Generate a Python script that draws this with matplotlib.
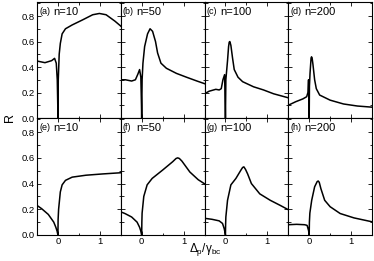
import numpy as np
import matplotlib
matplotlib.use('Agg')
import matplotlib.pyplot as plt
from matplotlib.ticker import MultipleLocator

plt.rcParams['font.family'] = ['Liberation Sans', 'DejaVu Sans']
plt.rcParams['mathtext.fontset'] = 'custom'
plt.rcParams['mathtext.rm'] = 'Liberation Sans'
plt.rcParams['mathtext.it'] = 'Liberation Sans'

# panel labels
letters = ['(a)', '(b)', '(c)', '(d)', '(e)', '(f)', '(g)', '(h)']
n_values = [10, 50, 100, 200, 10, 50, 100, 200]

# curves, detuning and R
xa = [-0.5, -0.31, -0.15, -0.08, -0.04, -0.016, -0.004, 0.0, 0.008, 0.03, 0.057, 0.1, 0.18, 0.34, 0.59, 0.83, 0.99, 1.15, 1.36, 1.54]
ya = [0.447, 0.434, 0.45, 0.468, 0.43, 0.30, 0.10, 0.0, 0.30, 0.50, 0.585, 0.66, 0.70, 0.73, 0.77, 0.81, 0.82, 0.81, 0.76, 0.71]

xb = [-0.5, -0.39, -0.24, -0.15, -0.09, -0.05, -0.02, -0.005, 0.0, 0.01, 0.03, 0.07, 0.14, 0.2, 0.26, 0.33, 0.38, 0.46, 0.59, 0.83, 1.07, 1.32, 1.54]
yb = [0.30, 0.30, 0.29, 0.30, 0.345, 0.38, 0.32, 0.10, 0.0, 0.30, 0.43, 0.56, 0.66, 0.70, 0.68, 0.60, 0.51, 0.43, 0.39, 0.35, 0.32, 0.29, 0.265]

xc = [-0.5, -0.39, -0.23, -0.15, -0.1, -0.06, -0.02, -0.005, 0.0, 0.01, 0.05, 0.075, 0.09, 0.105, 0.13, 0.17, 0.21, 0.3, 0.41, 0.67, 0.91, 1.15, 1.54]
yc = [0.19, 0.21, 0.225, 0.22, 0.23, 0.30, 0.34, 0.10, 0.0, 0.30, 0.45, 0.56, 0.595, 0.60, 0.57, 0.47, 0.38, 0.32, 0.285, 0.245, 0.22, 0.19, 0.155]

xd = [-0.5, -0.32, -0.15, -0.06, -0.03, -0.015, -0.004, 0.0, 0.006, 0.02, 0.045, 0.056, 0.07, 0.09, 0.13, 0.17, 0.25, 0.5, 0.82, 1.15, 1.54]
yd = [0.10, 0.128, 0.15, 0.167, 0.20, 0.30, 0.10, 0.0, 0.25, 0.35, 0.47, 0.48, 0.47, 0.42, 0.30, 0.23, 0.18, 0.14, 0.11, 0.094, 0.084]

xe = [-0.5, -0.39, -0.23, -0.1, -0.05, -0.02, 0.0, 0.004, 0.016, 0.057, 0.1, 0.18, 0.34, 0.67, 1.07, 1.54]
ye = [0.23, 0.205, 0.16, 0.10, 0.06, 0.03, 0.0, 0.12, 0.2, 0.335, 0.39, 0.425, 0.45, 0.465, 0.475, 0.485]

xf = [-0.5, -0.4, -0.24, -0.11, -0.05, -0.02, 0.0, 0.004, 0.01, 0.05, 0.13, 0.25, 0.5, 0.74, 0.82, 0.86, 0.9, 0.96, 1.15, 1.35, 1.54]
yf = [0.18, 0.167, 0.14, 0.10, 0.06, 0.03, 0.0, 0.10, 0.17, 0.30, 0.39, 0.44, 0.505, 0.57, 0.595, 0.60, 0.595, 0.575, 0.49, 0.43, 0.39]

xg = [-0.5, -0.32, -0.15, -0.07, -0.03, -0.01, 0.0, 0.004, 0.01, 0.05, 0.13, 0.25, 0.37, 0.41, 0.44, 0.48, 0.53, 0.62, 0.82, 1.07, 1.31, 1.54]
yg = [0.13, 0.122, 0.11, 0.09, 0.05, 0.02, 0.0, 0.08, 0.14, 0.27, 0.39, 0.44, 0.505, 0.525, 0.53, 0.51, 0.475, 0.40, 0.32, 0.27, 0.23, 0.19]

xh = [-0.5, -0.3, -0.11, -0.05, -0.015, -0.004, 0.0, 0.005, 0.016, 0.06, 0.13, 0.19, 0.215, 0.24, 0.28, 0.37, 0.5, 0.74, 1.07, 1.54]
yh = [0.08, 0.083, 0.08, 0.075, 0.035, 0.01, 0.0, 0.10, 0.17, 0.27, 0.375, 0.415, 0.42, 0.41, 0.36, 0.27, 0.22, 0.167, 0.133, 0.10]

xs = [xa, xb, xc, xd, xe, xf, xg, xh]
ys = [ya, yb, yc, yd, ye, yf, yg, yh]

fig = plt.figure(figsize=(3.74, 2.61), dpi=100)
left = 37 / 374
w = 83.75 / 374
bottoms = [1 - 118 / 261, 1 - 235 / 261]
heights = [116 / 261, 117 / 261]

for i in range(8):
    r, c = divmod(i, 4)
    ax = fig.add_axes([left + c * w, bottoms[r], w, heights[r]])
    ax.plot(xs[i], ys[i], color='black', lw=1.1)
    ax.set_xlim(-0.5, 1.5)
    ax.set_ylim(0, 0.91)
    ax.xaxis.set_major_locator(MultipleLocator(1))
    ax.xaxis.set_minor_locator(MultipleLocator(0.5))
    ax.yaxis.set_major_locator(MultipleLocator(0.2))
    ax.yaxis.set_minor_locator(MultipleLocator(0.1))
    ax.tick_params(which='both', direction='in', top=True, right=True, labelsize=6.8, pad=1.5, width=0.6)
    ax.tick_params(which='major', length=3)
    ax.tick_params(which='minor', length=1.8)
    for s in ax.spines.values():
        s.set_linewidth(0.8)
    if c != 0:
        ax.set_yticklabels([])
    else:
        ax.yaxis.set_major_formatter(plt.FuncFormatter(lambda v, p: f'{v:.1f}'))
    if r == 0:
        ax.set_xticklabels([])
    ax.text(0.025, 0.915, letters[i], transform=ax.transAxes, fontsize=6.5, va='center', ha='left')
    ax.text(0.19, 0.915, f'n={n_values[i]}', transform=ax.transAxes, fontsize=8, va='center', ha='left')

fig.text(10 / 374, 1 - 118 / 261, 'R', rotation=90, fontsize=9, ha='center', va='center')
fig.text(205 / 374, 1 - 249 / 261, r'$\mathrm{\Delta_p/\gamma_{bc}}$', fontsize=8.5, ha='center', va='center')

fig.savefig('out.png', dpi=100)
